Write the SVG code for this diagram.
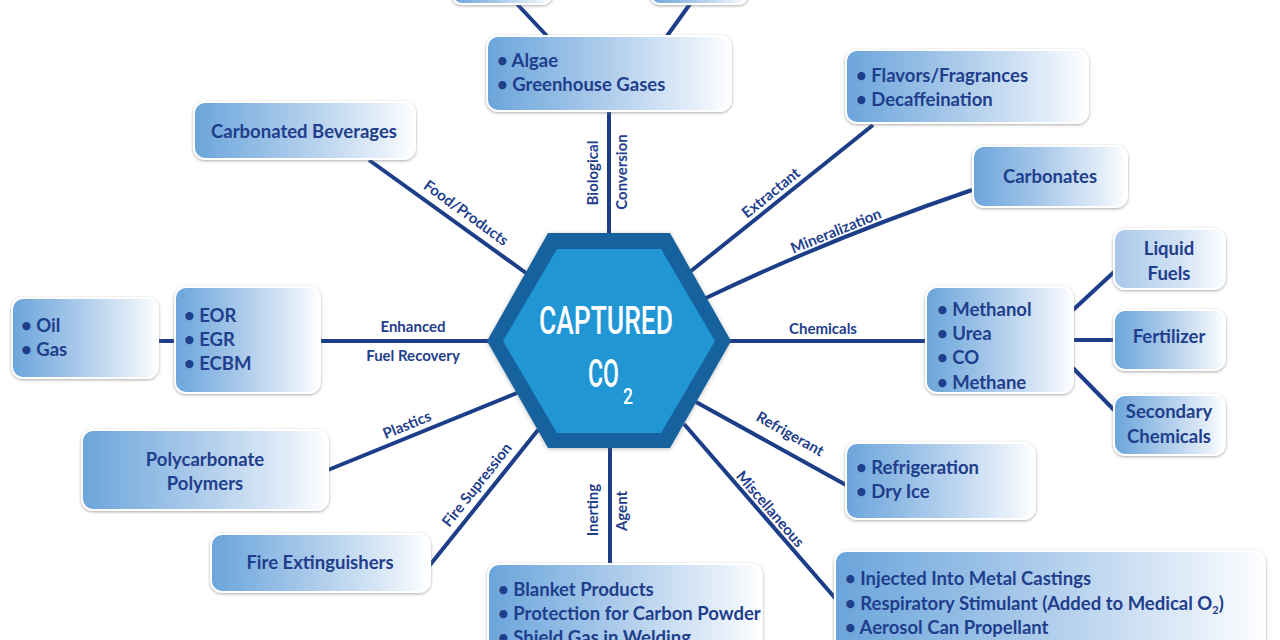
<svg xmlns="http://www.w3.org/2000/svg" width="1280" height="640" viewBox="0 0 1280 640">
<defs>
<linearGradient id="g" x1="0" y1="0" x2="1" y2="0">
<stop offset="0" stop-color="#6aa5db"/>
<stop offset="0.45" stop-color="#a9c9ea"/>
<stop offset="0.85" stop-color="#e4eef9"/>
<stop offset="1" stop-color="#ffffff"/>
</linearGradient>
<linearGradient id="gl" x1="0" y1="0" x2="1" y2="0">
<stop offset="0" stop-color="#a9c7ea"/>
<stop offset="0.6" stop-color="#d3e3f5"/>
<stop offset="1" stop-color="#fbfdff"/>
</linearGradient>
<filter id="sh" x="-10%" y="-20%" width="120%" height="140%">
<feDropShadow dx="0" dy="1" stdDeviation="1.6" flood-color="#7a7a7a" flood-opacity="0.65"/>
</filter>
<filter id="hs" x="-10%" y="-10%" width="120%" height="120%">
<feDropShadow dx="0" dy="1" stdDeviation="2" flood-color="#555" flood-opacity="0.4"/>
</filter>
</defs>
<style>
.box{fill:url(#g);stroke:#ffffff;stroke-width:2;filter:url(#sh)}
.lbox{fill:url(#gl);stroke:#ffffff;stroke-width:2;filter:url(#sh)}
.t{font-family:Lato,"Open Sans","DejaVu Sans",sans-serif;font-weight:700;font-size:18.5px;fill:#1f3e8c}
.c{text-anchor:middle}
.lab{font-family:Lato,"Open Sans","DejaVu Sans",sans-serif;font-weight:700;font-size:15px;fill:#1f3e8c;text-anchor:middle}
.ln{stroke:#1c3d88;stroke-width:4;fill:none}
.hx{font-family:Roboto,"Liberation Sans",sans-serif;font-weight:500;fill:#ffffff}
</style>
<rect width="1280" height="640" fill="#ffffff"/>
<g id="connectors">
<line class="ln" x1="517" y1="4" x2="547" y2="36"/>
<line class="ln" x1="690" y1="4" x2="667" y2="36"/>
<line class="ln" x1="609" y1="111" x2="609" y2="235"/>
<line class="ln" x1="369" y1="160" x2="526" y2="273"/>
<line class="ln" x1="873" y1="125" x2="691" y2="271"/>
<path class="ln" d="M706,298 Q836,236 972,190"/>
<line class="ln" x1="729" y1="341" x2="927" y2="341"/>
<line class="ln" x1="1073" y1="310" x2="1114" y2="272"/>
<line class="ln" x1="1073" y1="340" x2="1114" y2="340"/>
<line class="ln" x1="1073" y1="368" x2="1114" y2="410"/>
<line class="ln" x1="696" y1="402" x2="846" y2="485"/>
<line class="ln" x1="684" y1="424" x2="835" y2="598"/>
<line class="ln" x1="610" y1="446" x2="610" y2="564"/>
<line class="ln" x1="538" y1="430" x2="430" y2="565"/>
<line class="ln" x1="517" y1="393" x2="328" y2="470"/>
<line class="ln" x1="489" y1="341" x2="320" y2="341"/>
<line class="ln" x1="158" y1="341" x2="175" y2="341"/>
<text class="lab" transform="translate(466,213) rotate(35.9)" y="5">Food/Products</text>
<text class="lab" transform="translate(593,173) rotate(-90)" y="5">Biological</text>
<text class="lab" transform="translate(622,172) rotate(-90)" y="5">Conversion</text>
<text class="lab" transform="translate(771,193) rotate(-38.9)" y="5">Extractant</text>
<text class="lab" transform="translate(836,231) rotate(-22)" y="5">Mineralization</text>
<text class="lab" x="823" y="334">Chemicals</text>
<text class="lab" transform="translate(790,434) rotate(29.3)" y="5">Refrigerant</text>
<text class="lab" transform="translate(770,509) rotate(49.2)" y="5">Miscellaneous</text>
<text class="lab" transform="translate(593,510) rotate(-90)" y="5">Inerting</text>
<text class="lab" transform="translate(622,511) rotate(-90)" y="5">Agent</text>
<text class="lab" transform="translate(477,485) rotate(-51.6)" y="5">Fire Supression</text>
<text class="lab" transform="translate(407,425) rotate(-22.2)" y="5">Plastics</text>
<text class="lab" x="413" y="332">Enhanced</text>
<text class="lab" x="413" y="361">Fuel Recovery</text>
</g>
<g id="hub">
<polygon points="548,233 670,233 731,341 670,448 548,448 487,341" fill="#17629e" filter="url(#hs)"/>
<polygon points="557,249 661,249 715,341 661,433 557,433 503,341" fill="#2196d4"/>
<text class="hx" x="606" y="334" font-size="38" text-anchor="middle" textLength="134" lengthAdjust="spacingAndGlyphs">CAPTURED</text>
<text class="hx" x="588" y="387" font-size="38" textLength="31" lengthAdjust="spacingAndGlyphs">CO</text>
<text class="hx" x="623" y="404" font-size="22" textLength="10" lengthAdjust="spacingAndGlyphs">2</text>
</g>
<g id="top-left-box"><rect class="box" x="452" y="-20" width="100" height="24" rx="10"/></g>
<g id="top-right-box"><rect class="box" x="650" y="-20" width="98" height="24" rx="10"/></g>
<g id="algae"><rect class="box" x="487" y="36" width="244" height="75" rx="11"/>
<text class="t" x="497" y="67">• Algae</text><text class="t" x="497" y="91">• Greenhouse Gases</text></g>
<g id="carbonated-beverages"><rect class="box" x="194" y="102" width="221" height="57" rx="11"/>
<text class="t c" x="304" y="138">Carbonated Beverages</text></g>
<g id="flavors"><rect class="box" x="846" y="50" width="242" height="73" rx="11"/>
<text class="t" x="856" y="82">• Flavors/Fragrances</text><text class="t" x="856" y="106">• Decaffeination</text></g>
<g id="carbonates"><rect class="box" x="973" y="146" width="154" height="61" rx="11"/>
<text class="t c" x="1050" y="183">Carbonates</text></g>
<g id="chemicals"><rect class="box" x="926" y="287" width="147" height="106" rx="11"/>
<text class="t" x="937" y="316">• Methanol</text><text class="t" x="937" y="340">• Urea</text><text class="t" x="937" y="364">• CO</text><text class="t" x="937" y="389">• Methane</text></g>
<g id="liquid-fuels"><rect class="lbox" x="1114" y="229" width="111" height="60" rx="11"/>
<text class="t c" x="1169" y="255">Liquid</text><text class="t c" x="1169" y="280">Fuels</text></g>
<g id="fertilizer"><rect class="box" x="1114" y="310" width="111" height="60" rx="11"/>
<text class="t c" x="1169" y="343">Fertilizer</text></g>
<g id="secondary-chemicals"><rect class="box" x="1114" y="395" width="111" height="60" rx="11"/>
<text class="t c" x="1169" y="418">Secondary</text><text class="t c" x="1169" y="443">Chemicals</text></g>
<g id="refrigeration"><rect class="box" x="846" y="443" width="189" height="76" rx="11"/>
<text class="t" x="856" y="474">• Refrigeration</text><text class="t" x="856" y="498">• Dry Ice</text></g>
<g id="miscellaneous"><rect class="box" x="835" y="551" width="430" height="110" rx="11"/>
<text class="t" x="845" y="585">• Injected Into Metal Castings</text>
<text class="t" x="845" y="610">• Respiratory Stimulant (Added to Medical O<tspan font-size="11" dy="4">2</tspan><tspan dy="-4">)</tspan></text>
<text class="t" x="845" y="634">• Aerosol Can Propellant</text></g>
<g id="inerting"><rect class="box" x="488" y="564" width="274" height="100" rx="11"/>
<text class="t" x="498" y="596">• Blanket Products</text><text class="t" x="498" y="620">• Protection for Carbon Powder</text><text class="t" x="498" y="644">• Shield Gas in Welding</text></g>
<g id="fire-extinguishers"><rect class="box" x="211" y="534" width="219" height="58" rx="11"/>
<text class="t c" x="320" y="569">Fire Extinguishers</text></g>
<g id="polycarbonate"><rect class="box" x="82" y="430" width="246" height="80" rx="11"/>
<text class="t c" x="205" y="466">Polycarbonate</text><text class="t c" x="205" y="490">Polymers</text></g>
<g id="eor"><rect class="box" x="175" y="287" width="145" height="106" rx="11"/>
<text class="t" x="184" y="322">• EOR</text><text class="t" x="184" y="346">• EGR</text><text class="t" x="184" y="370">• ECBM</text></g>
<g id="oil-gas"><rect class="box" x="12" y="298" width="146" height="80" rx="11"/>
<text class="t" x="21" y="332">• Oil</text><text class="t" x="21" y="356">• Gas</text></g>
</svg>
